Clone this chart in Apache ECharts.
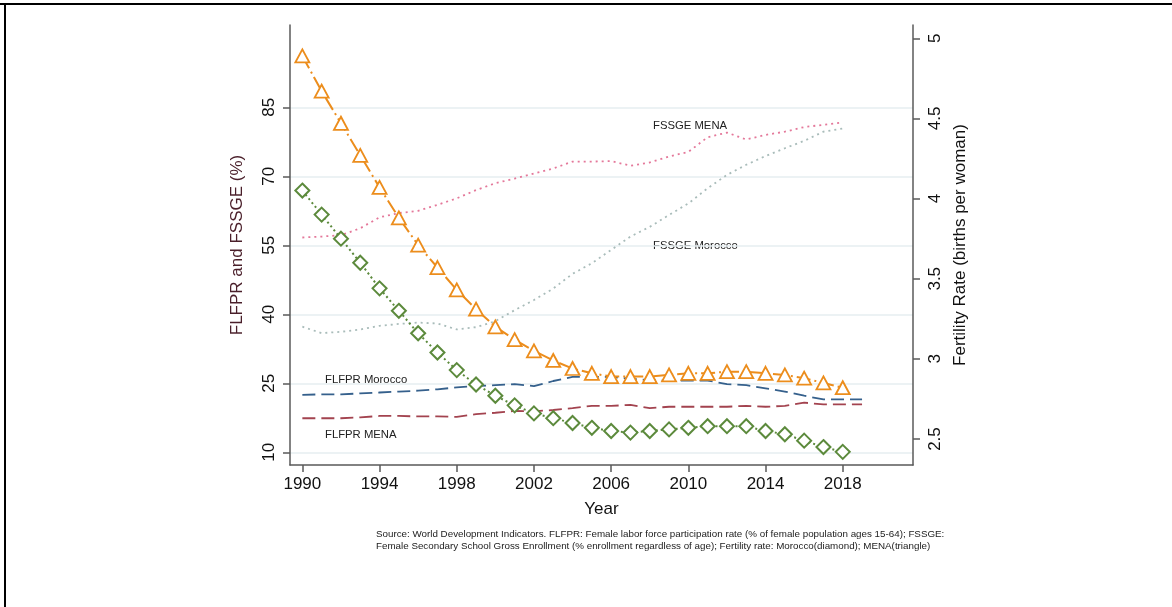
<!DOCTYPE html>
<html>
<head>
<meta charset="utf-8">
<script src="https://cdn.jsdelivr.net/npm/echarts@6/dist/echarts.min.js"></script>
<style>
html,body{margin:0;padding:0;background:#fff;}
#chart{width:1172px;height:607px;}
</style>
</head>
<body>
<div id="chart"></div>
<script>
// ---- data ----
var yearsFLFPR = [1990,1991,1992,1993,1994,1995,1996,1997,1998,1999,2000,2001,2002,2003,2004,2005,2006,2007,2008,2009,2010,2011,2012,2013,2014,2015,2016,2017,2018,2019];
var yearsOther = [1990,1991,1992,1993,1994,1995,1996,1997,1998,1999,2000,2001,2002,2003,2004,2005,2006,2007,2008,2009,2010,2011,2012,2013,2014,2015,2016,2017,2018];

var flfprMorocco = [22.5,22.6,22.6,22.8,23.0,23.2,23.4,23.7,24.1,24.4,24.6,24.8,24.4,25.5,26.4,26.4,26.4,26.0,25.7,25.6,25.6,25.6,24.8,24.6,23.9,23.2,22.3,21.5,21.5,21.5];
var flfprMena    = [17.4,17.4,17.4,17.6,17.9,17.9,17.8,17.8,17.7,18.3,18.6,19.0,18.9,19.2,19.6,20.1,20.1,20.3,19.6,19.9,19.9,19.9,19.9,20.1,19.9,20.1,20.8,20.4,20.4,20.4];
var fssgeMena    = [56.7,56.9,57.2,58.7,61.1,62.0,62.5,63.8,65.2,67.0,68.5,69.5,70.6,71.7,73.2,73.2,73.3,72.3,73.0,74.3,75.3,78.5,79.5,78.0,79.0,79.7,80.7,81.2,81.7];
var fssgeMorocco = [37.3,35.9,36.2,36.7,37.5,37.9,38.2,38.0,36.7,37.2,38.5,40.9,43.1,45.6,48.8,51.1,54.0,56.9,59.0,61.6,64.1,67.4,70.3,72.5,74.4,76.1,77.7,79.7,80.4];
var fertMena     = [4.89,4.67,4.47,4.27,4.07,3.88,3.71,3.57,3.43,3.31,3.20,3.12,3.05,2.99,2.94,2.91,2.89,2.89,2.89,2.90,2.91,2.91,2.92,2.92,2.91,2.90,2.88,2.85,2.82];
var fertMorocco  = [4.05,3.90,3.75,3.60,3.44,3.30,3.16,3.04,2.93,2.84,2.77,2.71,2.66,2.63,2.60,2.57,2.55,2.54,2.55,2.56,2.57,2.58,2.58,2.58,2.55,2.53,2.49,2.45,2.42];

var xTicks = [1990,1994,1998,2002,2006,2010,2014,2018];
var leftTicks = [10,25,40,55,70,85];
var rightTicks = [2.5,3,3.5,4,4.5,5];

var labelTexts = ['FSSGE MENA','FSSGE Morocco','FLFPR Morocco','FLFPR MENA'];
var footnote = [
  'Source: World Development Indicators. FLFPR: Female labor force participation rate (% of female population ages 15-64); FSSGE:',
  'Female Secondary School Gross Enrollment (% enrollment regardless of age); Fertility rate: Morocco(diamond); MENA(triangle)'
];

function pairs(xs, ys){ return ys.map(function(v,i){ return [xs[i], v]; }); }

var FONT = '"Liberation Sans", Arial, sans-serif';
var axisColor = '#5a5a5a';

var chart = echarts.init(document.getElementById('chart'), null, {renderer:'canvas'});

var option = {
  animation: false,
  backgroundColor: '#ffffff',
  textStyle: {fontFamily: FONT},
  grid: {left: 290, right: 259, top: 25, bottom: 142, containLabel: false},
  xAxis: {
    type: 'value', min: 1989.36, max: 2021.64,
    name: 'Year', nameLocation: 'middle', nameGap: 36,
    nameTextStyle: {fontSize: 17, color: '#111', fontFamily: FONT},
    axisLine: {show: true, lineStyle: {color: axisColor, width: 1.5}},
    axisTick: {show: true, length: 7, customValues: xTicks, lineStyle: {color: axisColor, width: 1.5}},
    axisLabel: {customValues: xTicks, fontSize: 17, color: '#111', margin: 11, fontFamily: FONT,
      formatter: function(v){ return String(Math.round(v)); }},
    splitLine: {show: false}
  },
  yAxis: [
    {
      type: 'value', min: 7.24, max: 102.89, position: 'left',
      name: 'FLFPR and FSSGE (%)', nameLocation: 'middle', nameGap: 44,
      nameTextStyle: {fontSize: 17, color: '#4a1f2a', fontFamily: FONT},
      axisLine: {show: true, lineStyle: {color: axisColor, width: 1.5}},
      axisTick: {show: true, length: 7, customValues: leftTicks, lineStyle: {color: axisColor, width: 1.5}},
      axisLabel: {customValues: leftTicks, rotate: 90, fontSize: 17, color: '#111', margin: 12, fontFamily: FONT},
      splitLine: {show: true, lineStyle: {color: '#e6eef0', width: 1.5}}
    },
    {
      type: 'value', min: 2.338, max: 5.083, position: 'right',
      name: 'Fertility Rate (births per woman)', nameLocation: 'middle', nameGap: 34,
      nameRotate: 90,
      nameTextStyle: {fontSize: 17, color: '#111', fontFamily: FONT},
      axisLine: {show: true, lineStyle: {color: axisColor, width: 1.5}},
      axisTick: {show: true, length: 7, customValues: rightTicks, lineStyle: {color: axisColor, width: 1.5}},
      axisLabel: {customValues: rightTicks, rotate: 90, fontSize: 17, color: '#111', margin: 14, fontFamily: FONT},
      splitLine: {show: false}
    }
  ],
  series: [
    {
      name: 'FSSGE Morocco', type: 'line', yAxisIndex: 0, showSymbol: false, symbol: 'none',
      data: pairs(yearsOther, fssgeMorocco),
      lineStyle: {color: '#a9bcba', width: 1.8, type: [2,4]}
    },
    {
      name: 'FSSGE MENA', type: 'line', yAxisIndex: 0, showSymbol: false, symbol: 'none',
      data: pairs(yearsOther, fssgeMena),
      lineStyle: {color: '#e4789a', width: 1.8, type: [2,4]}
    },
    {
      name: 'FLFPR MENA', type: 'line', yAxisIndex: 0, showSymbol: false, symbol: 'none',
      data: pairs(yearsFLFPR, flfprMena),
      lineStyle: {color: '#a3434f', width: 1.8, type: [13,6]}
    },
    {
      name: 'FLFPR Morocco', type: 'line', yAxisIndex: 0, showSymbol: false, symbol: 'none',
      data: pairs(yearsFLFPR, flfprMorocco),
      lineStyle: {color: '#35608c', width: 1.8, type: [13,6]}
    },
    {
      name: 'Fertility Morocco', type: 'line', yAxisIndex: 1,
      symbol: 'diamond', symbolSize: 14, showSymbol: true,
      data: pairs(yearsOther, fertMorocco),
      lineStyle: {color: '#5c8a3c', width: 2, type: [2,3]},
      itemStyle: {color: '#ffffff', borderColor: '#5c8a3c', borderWidth: 2}
    },
    {
      name: 'Fertility MENA', type: 'line', yAxisIndex: 1,
      symbol: 'triangle', symbolSize: [14,13], showSymbol: true,
      data: pairs(yearsOther, fertMena),
      lineStyle: {color: '#ec8d1c', width: 2, type: [14,4,2,4]},
      itemStyle: {color: '#ffffff', borderColor: '#ec8d1c', borderWidth: 1.8}
    }
  ],
  graphic: [
    {type: 'rect', left: 0, top: 3, shape: {width: 1172, height: 2}, style: {fill: '#000'}},
    {type: 'rect', left: 4, top: 3, shape: {width: 2, height: 604}, style: {fill: '#000'}},
    {type: 'text', left: 653, top: 120, style: {text: labelTexts[0], fontSize: 11.3, fill: '#222', fontFamily: FONT}},
    {type: 'text', left: 653, top: 240, style: {text: labelTexts[1], fontSize: 11.3, fill: '#222', fontFamily: FONT}},
    {type: 'text', left: 325, top: 374, style: {text: labelTexts[2], fontSize: 11.3, fill: '#222', fontFamily: FONT}},
    {type: 'text', left: 325, top: 429, style: {text: labelTexts[3], fontSize: 11.3, fill: '#222', fontFamily: FONT}},
    {type: 'text', left: 376, top: 529, style: {text: footnote[0], fontSize: 9.8, fill: '#222', fontFamily: FONT}},
    {type: 'text', left: 376, top: 541, style: {text: footnote[1], fontSize: 9.8, fill: '#222', fontFamily: FONT}}
  ]
};
chart.setOption(option);
</script>
</body>
</html>
